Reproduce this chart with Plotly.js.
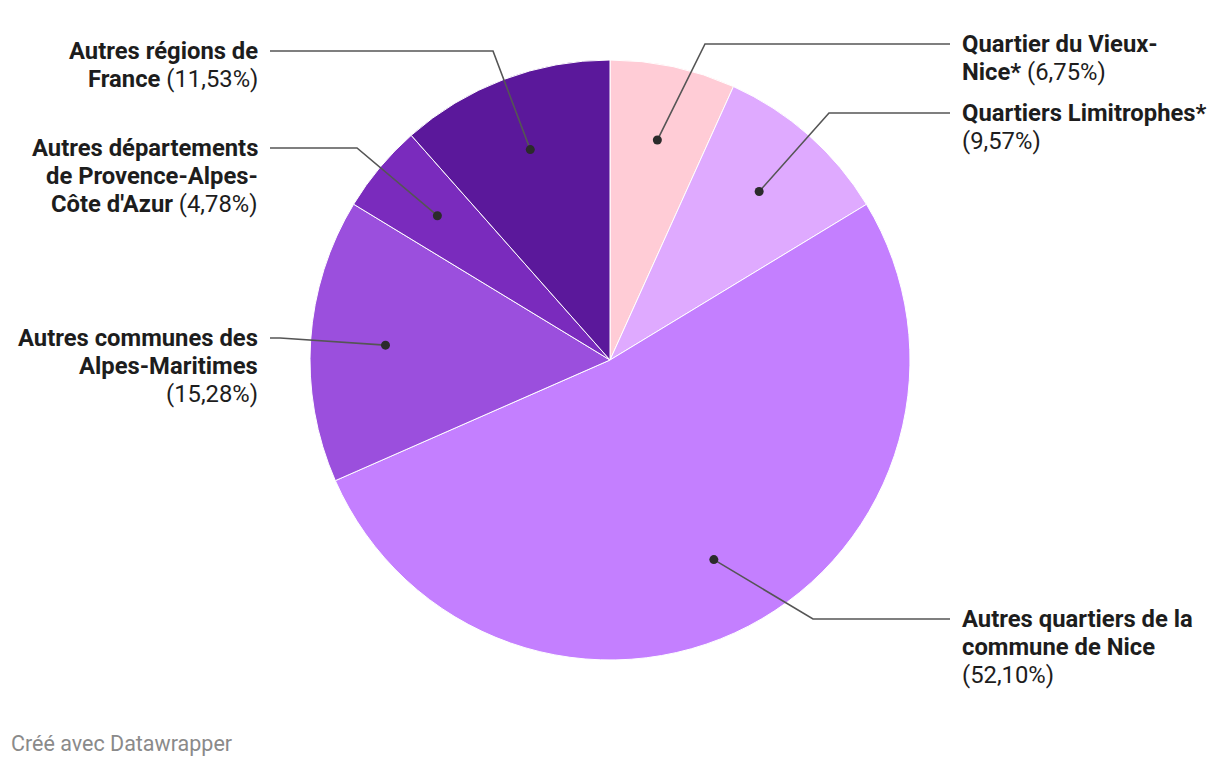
<!DOCTYPE html>
<html>
<head>
<meta charset="utf-8">
<script src="https://cdn.plot.ly/plotly-3.0.1.min.js"></script>
<style>
html,body{margin:0;padding:0;background:#fff;}
#chart{width:1220px;height:766px;}
</style>
</head>
<body>
<div id="chart"></div>
<script>
// ---- data ----
const labels = [
  "Quartier du Vieux-Nice*",
  "Quartiers Limitrophes*",
  "Autres quartiers de la commune de Nice",
  "Autres communes des Alpes-Maritimes",
  "Autres départements de Provence-Alpes-Côte d'Azur",
  "Autres régions de France"
];
const values = [6.75, 9.57, 52.10, 15.28, 4.78, 11.53];
const colors = ["#ffccd6", "#dfaaff", "#c47fff", "#9b4fdd", "#7a2bbd", "#5b189b"];
const labelLines = [
  ["Quartier du Vieux-", "Nice*"],
  ["Quartiers Limitrophes*"],
  ["Autres quartiers de la", "commune de Nice"],
  ["Autres communes des", "Alpes-Maritimes"],
  ["Autres départements", "de Provence-Alpes-", "Côte d'Azur"],
  ["Autres régions de", "France"]
];
const pctOnNewLine = [false, true, true, true, false, false];

// ---- layout constants (pixels) ----
const W = 1220, H = 766;
const CX = 610, CY = 360, R = 300;
const DOT_R = 0.75;
const labelSide = ["right", "right", "right", "left", "left", "left"];
const labelFirstY = [44, 113, 619, 338, 148, 51];
const elbows = [[705, 44], [829, 113], [813, 619], [280, 338], [357, 148], [493, 51]];
const LINE_H = 28;
const RIGHT_TEXT_X = 960, LEFT_TEXT_X = 260;
const RIGHT_LINE_END = 950, LEFT_LINE_END = 270;

const px = x => x / W;
const py = y => 1 - y / H;

const fmtPct = v => "(" + v.toFixed(2).replace(".", ",") + "%)";

const total = values.reduce((a, b) => a + b, 0);
const shapes = [];
const annotations = [];
let cum = 0;
values.forEach((v, i) => {
  const mid = (cum + v / 2) / total;
  cum += v;
  const th = mid * 2 * Math.PI;
  const dx = CX + DOT_R * R * Math.sin(th);
  const dy = CY - DOT_R * R * Math.cos(th);
  const [ex, ey] = elbows[i];
  const endX = labelSide[i] === "right" ? RIGHT_LINE_END : LEFT_LINE_END;
  shapes.push({
    type: "path", xref: "paper", yref: "paper",
    path: `M ${px(dx)} ${py(dy)} L ${px(ex)} ${py(ey)} L ${px(endX)} ${py(ey)}`,
    line: {color: "#555555", width: 1.6}
  });
  shapes.push({
    type: "circle", xref: "paper", yref: "paper",
    x0: px(dx - 4.5), x1: px(dx + 4.5), y0: py(dy - 4.5), y1: py(dy + 4.5),
    fillcolor: "#2b2b2b", line: {width: 0}
  });
  // label lines
  const lines = labelLines[i].map(s => "<b>" + s + "</b>");
  if (pctOnNewLine[i]) lines.push(fmtPct(v));
  else lines[lines.length - 1] += " " + fmtPct(v);
  const tx = labelSide[i] === "right" ? RIGHT_TEXT_X : LEFT_TEXT_X;
  lines.forEach((t, k) => {
    annotations.push({
      xref: "paper", yref: "paper",
      x: px(tx), y: py(labelFirstY[i] + k * LINE_H),
      xanchor: labelSide[i] === "right" ? "left" : "right",
      yanchor: "middle",
      text: t, showarrow: false,
      font: {family: "Roboto, sans-serif", size: 23.8, color: "#1d1d1d"}
    });
  });
});

annotations.push({
  xref: "paper", yref: "paper", x: px(9), y: py(743),
  xanchor: "left", yanchor: "middle", showarrow: false,
  text: "Créé avec Datawrapper",
  font: {family: "Roboto, sans-serif", size: 21.5, color: "#8a8a8a"}
});

const trace = {
  type: "pie",
  labels: labels,
  values: values,
  sort: false,
  direction: "clockwise",
  rotation: 0,
  textinfo: "none",
  hoverinfo: "label+percent",
  marker: {colors: colors, line: {color: "#ffffff", width: 1}},
  domain: {x: [px(CX - R), px(CX + R)], y: [py(CY + R), py(CY - R)]},
  showlegend: false
};

const layout = {
  width: W, height: H,
  margin: {l: 0, r: 0, t: 0, b: 0},
  paper_bgcolor: "#ffffff",
  plot_bgcolor: "#ffffff",
  showlegend: false,
  shapes: shapes,
  annotations: annotations,
  font: {family: "Roboto, sans-serif"}
};

Plotly.newPlot("chart", [trace], layout, {displayModeBar: false, staticPlot: true});
</script>
</body>
</html>
